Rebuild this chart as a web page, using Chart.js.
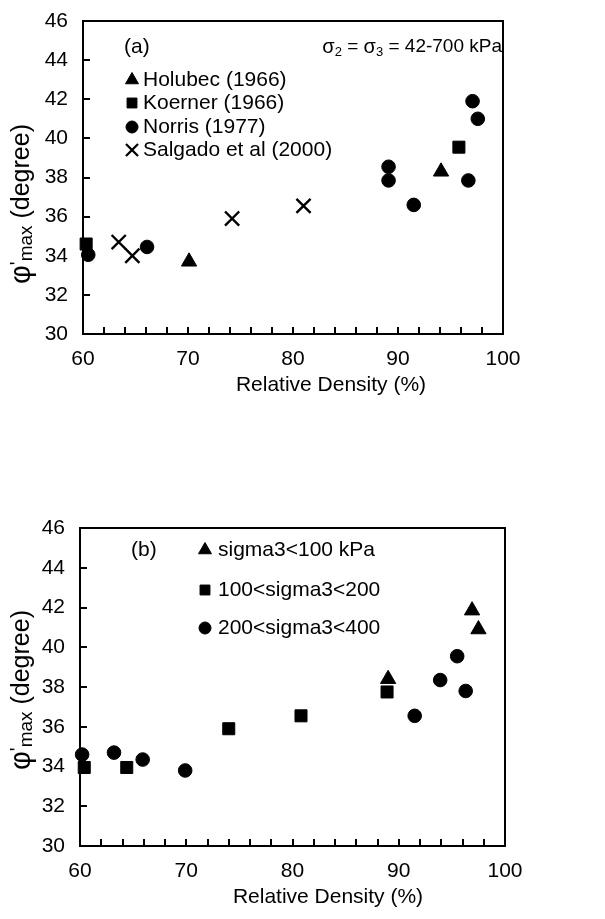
<!DOCTYPE html>
<html>
<head>
<meta charset="utf-8">
<script src="https://cdn.jsdelivr.net/npm/chart.js@4.4.1/dist/chart.umd.min.js"></script>
<style>
  html, body { margin: 0; padding: 0; background: #fff; overflow: hidden; }
  #wrap { position: relative; width: 605px; height: 919px; overflow: hidden; }
  canvas { position: absolute; left: 0; }
</style>
</head>
<body>
<div id="wrap">
  <canvas id="chartA" width="605" height="490" style="top:-40px"></canvas>
  <canvas id="chartB" width="605" height="469" style="top:450px"></canvas>
</div>
<script>
// ---- Panel (a): peak friction angle grouped by data source ----
const holubecRD  = [70.1, 94.1];
const holubecPhi = [33.7, 38.3];
const koernerRD  = [60.3, 95.8];
const koernerPhi = [34.6, 39.55];
const norrisRD   = [60.5, 66.1, 89.1, 89.1, 91.5, 96.7, 97.1, 97.6];
const norrisPhi  = [34.05, 34.45, 38.55, 37.85, 36.6, 37.85, 41.9, 41.0];
const salgadoRD  = [63.4, 64.7, 74.2, 81.0];
const salgadoPhi = [34.7, 34.0, 35.9, 36.55];

// ---- Panel (b): same tests grouped by confining stress ----
const lowRD   = [89.0, 96.9, 97.5];
const lowPhi  = [38.4, 41.85, 40.9];
const midRD   = [60.4, 64.4, 74.0, 80.8, 88.9];
const midPhi  = [33.95, 33.95, 35.9, 36.55, 37.75];
const highRD  = [60.2, 63.2, 65.9, 69.9, 91.5, 93.9, 95.5, 96.3];
const highPhi = [34.6, 34.7, 34.35, 33.8, 36.55, 38.35, 39.55, 37.8];

// ---- Axis ticks ----
const xTickLabels = [60, 70, 80, 90, 100];
const yTickLabels = [30, 32, 34, 36, 38, 40, 42, 44, 46];

const labelsA = ['Holubec (1966)', 'Koerner (1966)', 'Norris (1977)', 'Salgado et al (2000)'];
const labelsB = ['sigma3<100 kPa', '100<sigma3<200', '200<sigma3<400'];

const FONT = "'Liberation Sans', Arial, sans-serif";
Chart.defaults.font.family = FONT;
Chart.defaults.font.size = 21;
Chart.defaults.color = '#000';

function pts(xs, ys) { return xs.map((x, i) => ({ x: x, y: ys[i] })); }

function series(label, xs, ys, style, r, bw) {
  return {
    label: label, data: pts(xs, ys), pointStyle: style,
    pointRadius: r, pointHoverRadius: r, pointBorderWidth: bw,
    backgroundColor: '#000', borderColor: '#000', showLine: false, clip: false
  };
}

function drawMarker(ctx, style, r, x, y, bw) {
  ctx.save();
  ctx.fillStyle = '#000';
  ctx.strokeStyle = '#000';
  ctx.lineWidth = bw;
  Chart.helpers.drawPoint(ctx, { pointStyle: style, radius: r, rotation: 0, borderWidth: bw }, x, y);
  ctx.restore();
}

// draws a run of text pieces [text, size, dy] starting at x
function drawRuns(ctx, runs, x, y) {
  let cx = x;
  runs.forEach(([t, s, dy]) => {
    ctx.font = s + 'px ' + FONT;
    ctx.fillText(t, cx, y + dy);
    cx += ctx.measureText(t).width;
  });
  return cx;
}
function runsWidth(ctx, runs) {
  let w = 0;
  runs.forEach(([t, s]) => { ctx.font = s + 'px ' + FONT; w += ctx.measureText(t).width; });
  return w;
}

// frame, inward tick marks, legend, panel tags and axis titles
const decor = {
  id: 'decor',
  afterDraw(chart, args, o) {
    const ctx = chart.ctx;
    const a = chart.chartArea;
    const xs = chart.scales.x, ys = chart.scales.y;
    ctx.save();
    ctx.strokeStyle = '#000';
    ctx.fillStyle = '#000';
    ctx.lineWidth = 2;
    ctx.strokeRect(a.left, a.top, a.right - a.left, a.bottom - a.top);
    ctx.beginPath();
    xs.ticks.forEach(t => {
      if (t.value <= xs.min || t.value >= xs.max) return;
      const px = Math.round(xs.getPixelForValue(t.value));
      ctx.moveTo(px, a.bottom); ctx.lineTo(px, a.bottom - 7);
    });
    ys.ticks.forEach(t => {
      if (t.value <= ys.min || t.value >= ys.max) return;
      const py = Math.round(ys.getPixelForValue(t.value));
      ctx.moveTo(a.left, py); ctx.lineTo(a.left + 7, py);
    });
    ctx.stroke();

    // legend
    ctx.textBaseline = 'middle';
    ctx.textAlign = 'left';
    chart.data.datasets.forEach((ds, i) => {
      const y = o.rows[i];
      drawMarker(ctx, ds.pointStyle, o.legendRadius[i], o.legendX, y, ds.pointStyle === 'crossRot' ? 2.3 : 1);
      ctx.font = '21px ' + FONT;
      ctx.fillText(ds.label, o.textX, y);
    });

    // panel tag and stress note
    ctx.font = '21px ' + FONT;
    ctx.fillText(o.tag, o.tagX, o.tagY);
    if (o.note) {
      const w = runsWidth(ctx, o.note);
      drawRuns(ctx, o.note, o.noteRight - w, o.tagY);
    }

    // x title
    ctx.textAlign = 'center';
    ctx.font = '21px ' + FONT;
    ctx.fillText('Relative Density (%)', a.left + o.xTitleOffset, a.bottom + o.xTitleGap);

    // y title, rotated
    const yRuns = [['\u03c6', 29, 0], ['\'', 20, -4], ['max', 19, 5], [' (degree)', 25, 0]];
    ctx.translate(o.yTitleX, o.yTitleY);
    ctx.rotate(-Math.PI / 2);
    ctx.textAlign = 'left';
    const w = runsWidth(ctx, yRuns);
    drawRuns(ctx, yRuns, -w / 2, 0);
    ctx.restore();
  }
};

function panelOptions(area, canvasW, canvasH, decorOpts) {
  return {
    responsive: false,
    animation: false,
    devicePixelRatio: 1,
    layout: { padding: { top: area.top, right: canvasW - area.right, left: 0, bottom: 0 } },
    plugins: { legend: { display: false }, tooltip: { enabled: false }, decor: decorOpts },
    scales: {
      x: {
        type: 'linear', position: 'bottom', min: 60, max: 100,
        afterFit: s => { s.height = canvasH - area.bottom; },
        ticks: {
          stepSize: 2, autoSkip: false, maxRotation: 0, padding: 13,
          callback: v => xTickLabels.includes(v) ? String(v) : ''
        },
        grid: { display: false, drawTicks: false },
        border: { display: false }
      },
      y: {
        type: 'linear', position: 'left', min: 30, max: 46,
        afterFit: s => { s.width = area.left; },
        ticks: {
          stepSize: 2, autoSkip: false, padding: 15,
          callback: v => yTickLabels.includes(v) ? String(v) : ''
        },
        grid: { display: false, drawTicks: false },
        border: { display: false }
      }
    }
  };
}

// top panel canvas starts 40px above the page edge
new Chart(document.getElementById('chartA'), {
  type: 'scatter',
  data: {
    datasets: [
      series(labelsA[0], holubecRD, holubecPhi, 'triangle', 8.8, 1),
      series(labelsA[1], koernerRD, koernerPhi, 'rect', 8.5, 1),
      series(labelsA[2], norrisRD, norrisPhi, 'circle', 6.8, 1),
      series(labelsA[3], salgadoRD, salgadoPhi, 'crossRot', 10, 2.4)
    ]
  },
  options: panelOptions({ left: 83, right: 503, top: 61, bottom: 374 }, 605, 490, {
    rows: [120, 143, 167, 190], legendRadius: [7.5, 7, 6, 8.5],
    legendX: 132, textX: 143,
    tag: '(a)', tagX: 124, tagY: 87,
    note: [['\u03c3', 20, 0], ['2', 13, 5], [' = ', 19, 0], ['\u03c3', 20, 0], ['3', 13, 5], [' = 42-700 kPa', 19, 0]],
    noteRight: 502,
    xTitleOffset: 248, xTitleGap: 51, yTitleX: 22, yTitleY: 244
  }),
  plugins: [decor]
});

new Chart(document.getElementById('chartB'), {
  type: 'scatter',
  data: {
    datasets: [
      series(labelsB[0], lowRD, lowPhi, 'triangle', 8.8, 1),
      series(labelsB[1], midRD, midPhi, 'rect', 8.5, 1),
      series(labelsB[2], highRD, highPhi, 'circle', 6.8, 1)
    ]
  },
  options: panelOptions({ left: 80, right: 505, top: 78, bottom: 396 }, 605, 469, {
    rows: [100, 140, 178], legendRadius: [7.5, 7, 6],
    legendX: 205, textX: 218,
    tag: '(b)', tagX: 131, tagY: 100,
    note: null, noteRight: 0,
    xTitleOffset: 248, xTitleGap: 51, yTitleX: 22, yTitleY: 240
  }),
  plugins: [decor]
});
</script>
</body>
</html>
